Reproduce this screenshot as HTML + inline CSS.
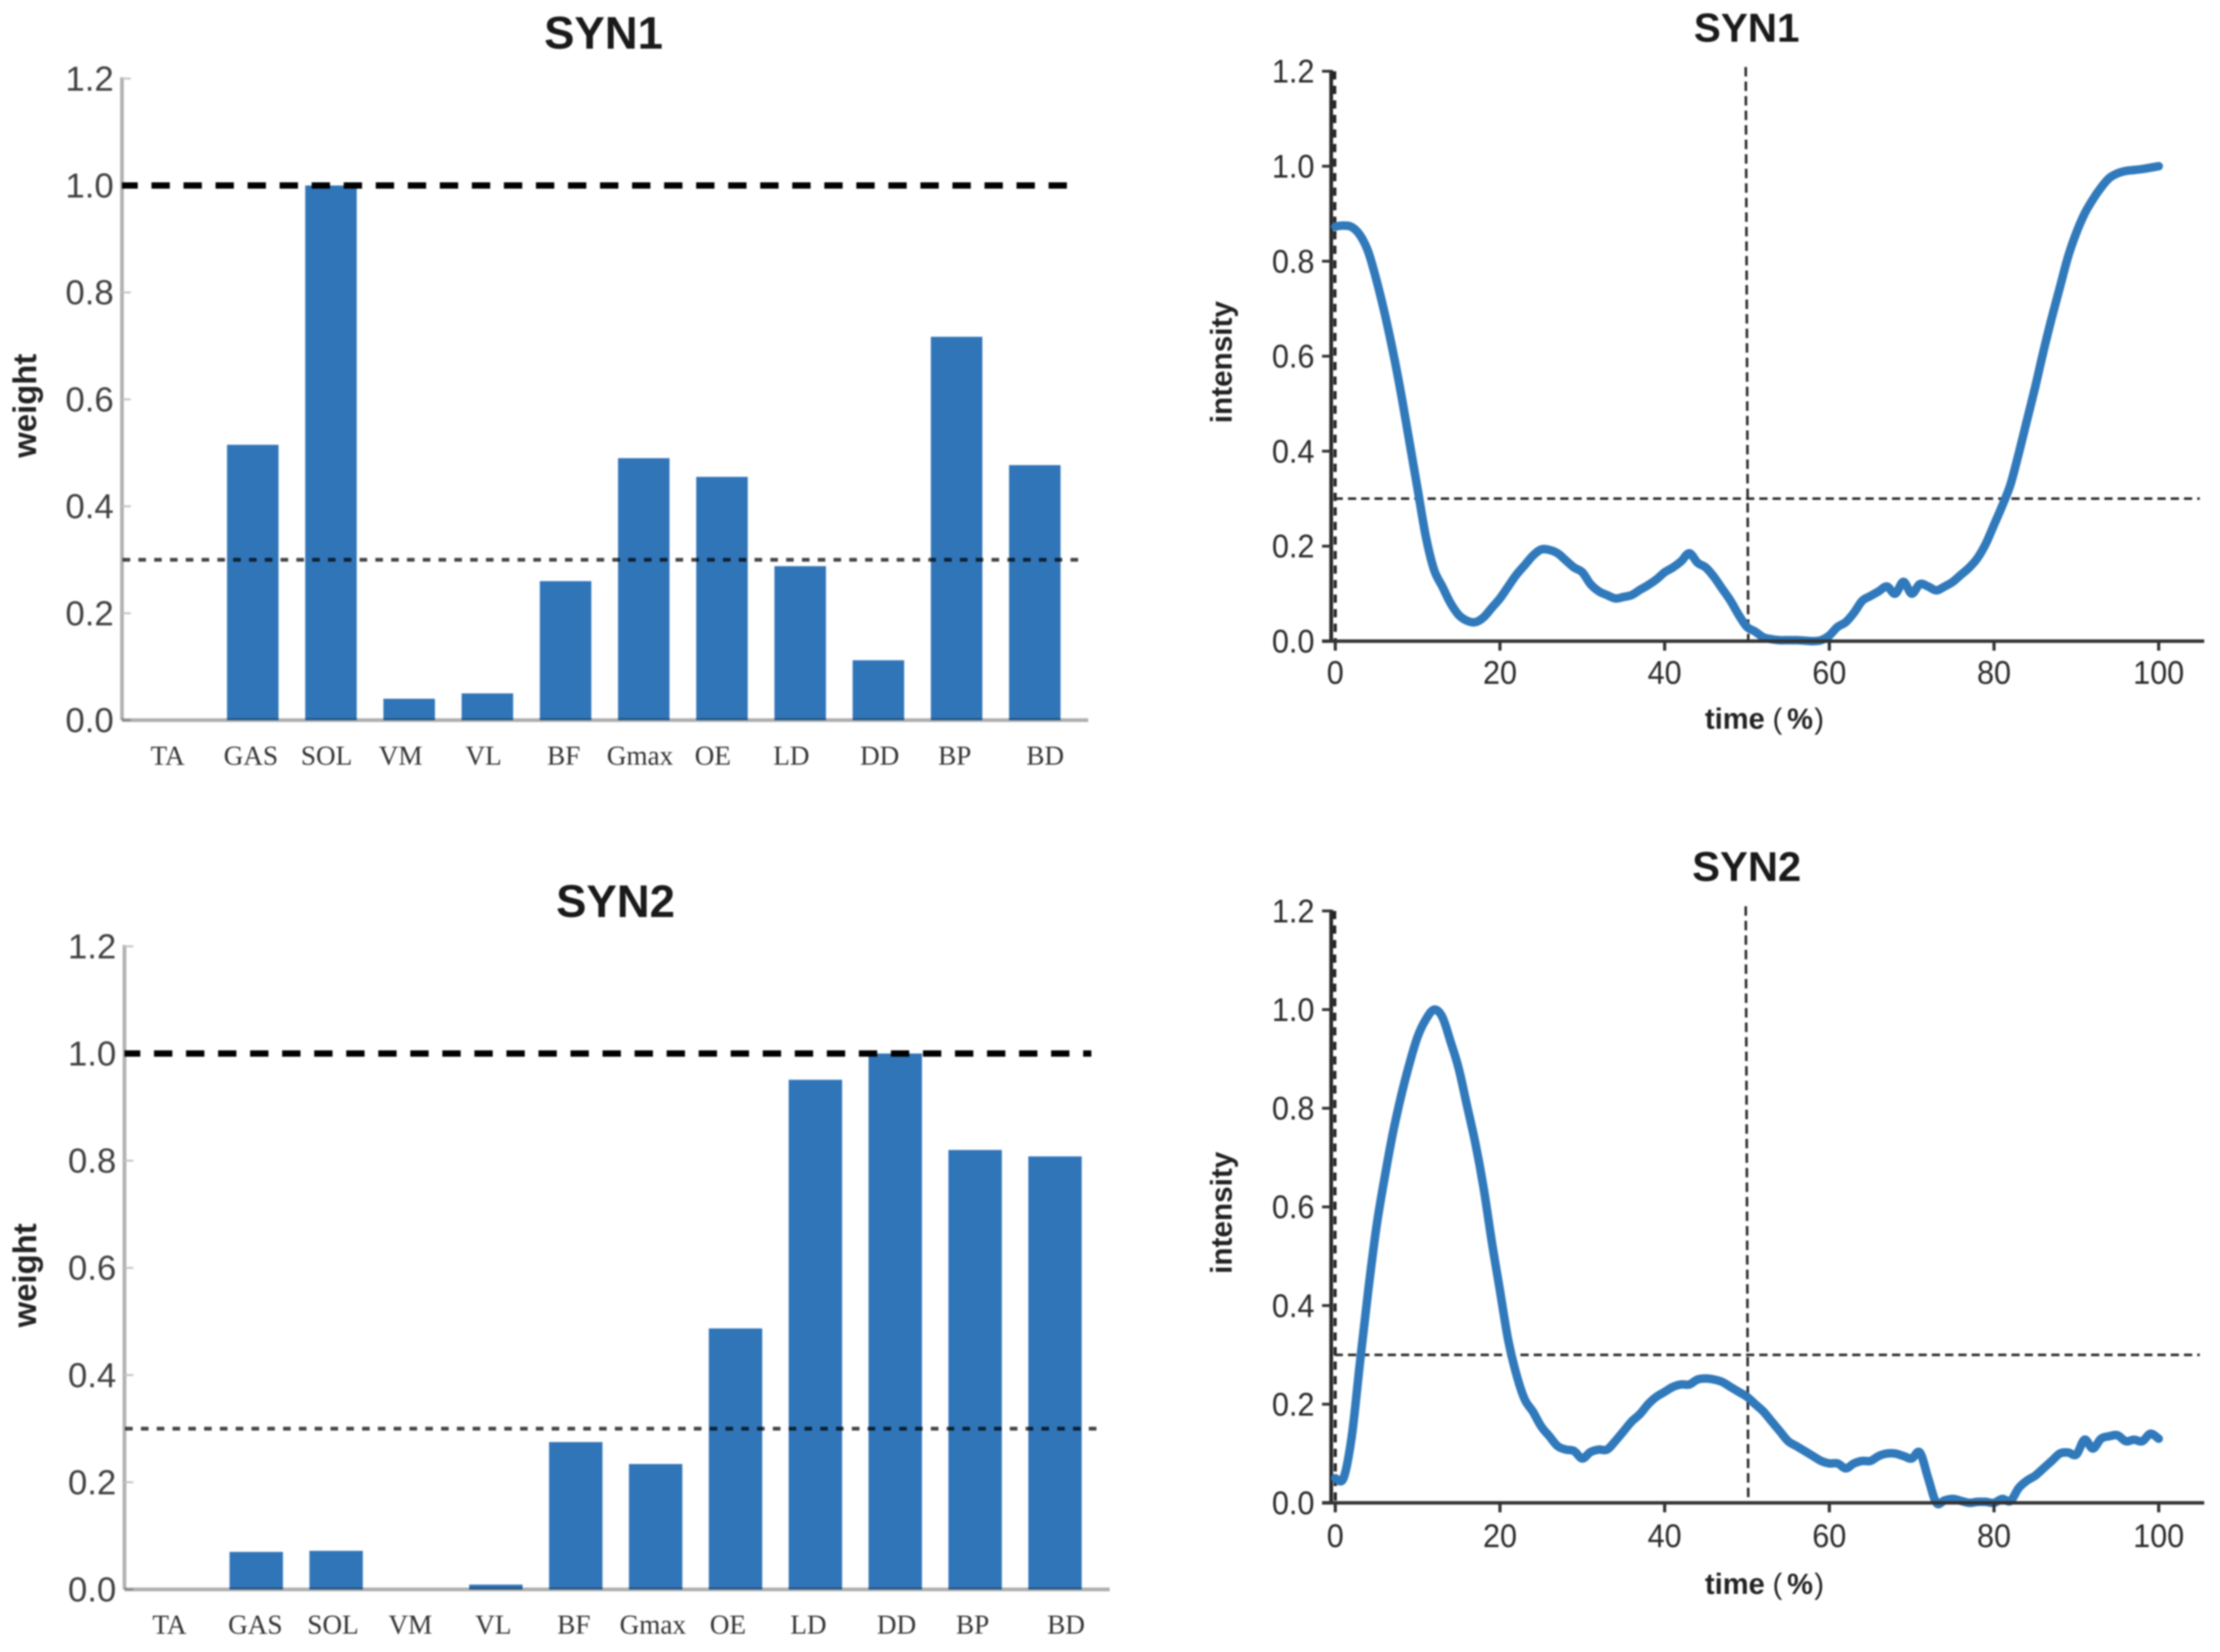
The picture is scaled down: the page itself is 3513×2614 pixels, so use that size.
<!DOCTYPE html>
<html lang="en">
<head>
<meta charset="utf-8">
<title>SYN1 and SYN2 muscle synergies</title>
<style>
  html, body { margin: 0; padding: 0; background: #fff; }
  #figure { display: block; width: 3513px; height: 2614px; filter: blur(1.2px); }
  text { font-family: "Liberation Sans", "DejaVu Sans", sans-serif; }
  .cat { font-family: "Liberation Serif", "Noto Serif CJK SC", serif; }
  .mult { mix-blend-mode: multiply; }
</style>
</head>
<body>
<svg id="figure" xmlns="http://www.w3.org/2000/svg" width="3513" height="2614" viewBox="0 0 3513 2614">
  <rect x="0" y="0" width="3513" height="2614" fill="#ffffff"/>
  <g id="p1"></g>
  <g id="p2"></g>
  <g id="p3"></g>
  <g id="p4"></g>
</svg>
<script>
const categories = ["TA","GAS","SOL","VM","VL","BF","Gmax","OE","LD","DD","BP","BD"];
const syn1Weights = [0,0.515,1.0,0.04,0.05,0.26,0.49,0.455,0.288,0.112,0.717,0.477];
const syn2Weights = [0,0.07,0.072,0,0.009,0.275,0.234,0.487,0.951,1.0,0.82,0.808];
const yTickValues = [0,0.2,0.4,0.6,0.8,1.0,1.2];
const timeTickValues = [0,20,40,60,80,100];
const syn1Intensity = [0.873,0.875,0.872,0.855,0.82,0.76,0.69,0.61,0.52,0.42,0.32,0.22,0.15,0.115,0.08,0.055,0.043,0.04,0.05,0.07,0.09,0.115,0.14,0.16,0.18,0.193,0.192,0.185,0.17,0.155,0.145,0.12,0.105,0.097,0.09,0.093,0.097,0.108,0.118,0.13,0.145,0.155,0.168,0.185,0.165,0.155,0.135,0.11,0.085,0.055,0.03,0.02,0.008,0.004,0.002,0.002,0.002,0.001,0,0.002,0.012,0.03,0.04,0.06,0.085,0.095,0.105,0.115,0.1,0.125,0.1,0.12,0.115,0.107,0.115,0.125,0.14,0.155,0.175,0.205,0.245,0.285,0.33,0.395,0.465,0.535,0.61,0.68,0.745,0.81,0.86,0.9,0.93,0.955,0.975,0.985,0.99,0.992,0.994,0.997,1.0];
const syn2Intensity = [0.05,0.05,0.135,0.285,0.43,0.56,0.66,0.75,0.825,0.89,0.945,0.98,1.0,0.985,0.935,0.88,0.805,0.73,0.64,0.53,0.43,0.33,0.26,0.21,0.185,0.155,0.135,0.115,0.108,0.105,0.09,0.103,0.108,0.108,0.125,0.145,0.165,0.18,0.2,0.215,0.225,0.235,0.24,0.24,0.25,0.252,0.25,0.245,0.235,0.225,0.215,0.2,0.185,0.165,0.145,0.125,0.115,0.105,0.095,0.085,0.08,0.08,0.07,0.08,0.085,0.085,0.095,0.1,0.1,0.095,0.09,0.102,0.05,0,0.005,0.008,0.004,0,0.002,0.002,0,0.008,0.004,0.03,0.045,0.055,0.07,0.085,0.1,0.102,0.098,0.128,0.11,0.13,0.135,0.137,0.125,0.128,0.125,0.14,0.13];
const fullScaleLevel = 1.0;
const thresholdLevel = 0.3;
const phaseBoundary = 50;

const NS = 'http://www.w3.org/2000/svg';
function mk(parent, tag, attrs, txt) {
  const el = document.createElementNS(NS, tag);
  for (const k in attrs) el.setAttribute(k, attrs[k]);
  if (txt !== undefined) el.textContent = txt;
  parent.appendChild(el);
  return el;
}
function digitsWidth(str, size) {
  let em = 0;
  for (const ch of str) em += (ch === '.') ? 0.278 : 0.556;
  return em * size * 0.93;
}
function smoothPath(pts) {
  let d = 'M' + pts[0][0].toFixed(1) + ' ' + pts[0][1].toFixed(1);
  for (let i = 0; i < pts.length - 1; i++) {
    const p0 = pts[Math.max(0, i - 1)], p1 = pts[i], p2 = pts[i + 1], p3 = pts[Math.min(pts.length - 1, i + 2)];
    const c1x = p1[0] + (p2[0] - p0[0]) / 6, c1y = p1[1] + (p2[1] - p0[1]) / 6;
    const c2x = p2[0] - (p3[0] - p1[0]) / 6, c2y = p2[1] - (p3[1] - p1[1]) / 6;
    d += ' C' + c1x.toFixed(1) + ' ' + c1y.toFixed(1) + ' ' + c2x.toFixed(1) + ' ' + c2y.toFixed(1) + ' ' + p2[0].toFixed(1) + ' ' + p2[1].toFixed(1);
  }
  return d;
}

function drawBarPanel(root, cfg, weights) {
  const yPos = v => cfg.y0 - v * cfg.unit;
  const xPos = i => cfg.xFirst + i * cfg.step;

  const title = mk(root, 'text', {x: cfg.titleX, y: cfg.titleY, 'text-anchor': 'middle', 'font-size': cfg.titleSize, 'font-weight': 'bold', fill: '#1a1a1a'}, cfg.title);
  
  

  const yAxis = mk(root, 'line', {x1: cfg.axisX, x2: cfg.axisX, y1: yPos(1.2) - 2, y2: cfg.y0, stroke: '#b2b2b2', 'stroke-width': 6});
  
  

  yTickValues.forEach(v => {
    const tick = mk(root, 'line', {x1: cfg.axisX, x2: cfg.axisX + 14, y1: yPos(v), y2: yPos(v), stroke: '#c4c4c4', 'stroke-width': 3});
    
    
    const label = mk(root, 'text', {x: cfg.axisX - 13, y: yPos(v) + 19, 'text-anchor': 'end', 'font-size': 55, fill: '#404040'}, v.toFixed(1));
    
    
  });

  weights.forEach((v, i) => {
    if (v <= 0) return;
    const bar = mk(root, 'rect', {x: xPos(i) - cfg.barWidth / 2, y: yPos(v), width: cfg.barWidth, height: v * cfg.unit, fill: '#3075b8'});
    
    
  });

  const xAxis = mk(root, 'line', {x1: cfg.axisX, x2: cfg.xEnd, y1: cfg.y0, y2: cfg.y0, stroke: '#b0b0b0', 'stroke-width': 6, class: 'mult'});
  
  

  const topLine = mk(root, 'line', {x1: cfg.axisX, x2: cfg.dashEnd, y1: yPos(fullScaleLevel), y2: yPos(fullScaleLevel), stroke: '#000', 'stroke-width': 10, 'stroke-dasharray': '29 21.7', 'stroke-dashoffset': 4});
  
  

  const thresh = mk(root, 'line', {x1: cfg.axisX + 1, x2: cfg.dotEnd, y1: yPos(thresholdLevel), y2: yPos(thresholdLevel), stroke: '#454545', 'stroke-width': 6, 'stroke-dasharray': '12 13', class: 'mult'});
  
  

  categories.forEach((c, i) => {
    const nudge = cfg.labelNudge[c] || 0;
    const label = mk(root, 'text', {x: xPos(i) + nudge, y: cfg.catY, 'text-anchor': 'middle', 'font-size': 43, fill: '#333', class: 'cat'}, c);
    
    
  });

  const yTitle = mk(root, 'text', {transform: 'translate(57,' + cfg.yTitleY + ') rotate(-90)', 'text-anchor': 'middle', 'font-size': 52, 'font-weight': 'bold', fill: '#222'}, 'weight');
  
  
}

function drawLinePanel(root, cfg, series) {
  const X0 = 2113, XU = 13.03, AXIS = 2106.5;
  const xPos = t => X0 + t * XU;
  const yPos = v => cfg.y0 - v * cfg.unit;

  const title = mk(root, 'text', {x: 2764, y: cfg.titleY, 'text-anchor': 'middle', 'font-size': cfg.titleSize, 'font-weight': 'bold', fill: '#1a1a1a'}, cfg.title);
  
  

  const yAxis = mk(root, 'line', {x1: AXIS, x2: AXIS, y1: yPos(1.2) - 2, y2: cfg.y0, stroke: '#2a2a2a', 'stroke-width': 6});
  
  

  const zeroLine = mk(root, 'line', {x1: 2112, x2: 2113, y1: yPos(1.2), y2: cfg.y0, stroke: '#222', 'stroke-width': 5, 'stroke-dasharray': '13 10'});
  
  

  const phase = mk(root, 'line', {x1: xPos(phaseBoundary) - 2, x2: xPos(phaseBoundary) + 2, y1: cfg.phaseTop, y2: cfg.y0, stroke: '#2a2a2a', 'stroke-width': 4, 'stroke-dasharray': '15 8'});
  
  

  const thresh = mk(root, 'line', {x1: 2112, x2: 3481, y1: yPos(thresholdLevel), y2: yPos(thresholdLevel), stroke: '#2a2a2a', 'stroke-width': 4, 'stroke-dasharray': '13 8'});
  
  

  const curve = mk(root, 'path', {d: smoothPath(series.map((v, i) => [xPos(i), yPos(v)])), fill: 'none', stroke: '#3079bb', 'stroke-width': 13.5, 'stroke-linejoin': 'round', 'stroke-linecap': 'round'});
  
  

  const xAxis = mk(root, 'line', {x1: 2092, x2: 3488, y1: cfg.y0, y2: cfg.y0, stroke: '#333', 'stroke-width': 5.5});
  
  

  yTickValues.forEach(v => {
    const tick = mk(root, 'line', {x1: 2092, x2: AXIS, y1: yPos(v), y2: yPos(v), stroke: '#333', 'stroke-width': 4.5});
    
    
    const str = v.toFixed(1);
    const label = mk(root, 'text', {x: 2080, y: yPos(v) + 18, 'text-anchor': 'end', 'font-size': 52, fill: '#2a2a2a', textLength: digitsWidth(str, 52), lengthAdjust: 'spacingAndGlyphs'}, str);
    
    
  });

  timeTickValues.forEach(t => {
    const tick = mk(root, 'line', {x1: xPos(t), x2: xPos(t), y1: cfg.y0, y2: cfg.y0 + 15, stroke: '#333', 'stroke-width': 5});
    
    
    const str = String(t);
    const label = mk(root, 'text', {x: xPos(t), y: cfg.tickY, 'text-anchor': 'middle', 'font-size': 52, fill: '#2a2a2a', textLength: digitsWidth(str, 52), lengthAdjust: 'spacingAndGlyphs'}, str);
    
    
  });

  const xTitle = mk(root, 'text', {x: 2698, y: cfg.xTitleY, 'font-size': 46, 'font-weight': 'bold', fill: '#222'});
  
  
  mk(xTitle, 'tspan', {}, 'time');
  mk(xTitle, 'tspan', {x: 2805, 'font-weight': 'normal'}, '(');
  mk(xTitle, 'tspan', {x: 2828}, '%');
  mk(xTitle, 'tspan', {x: 2871, 'font-weight': 'normal'}, ')');

  const yTitle = mk(root, 'text', {transform: 'translate(1949,' + cfg.yTitleY + ') rotate(-90)', 'text-anchor': 'middle', 'font-size': 47, 'font-weight': 'bold', fill: '#222'}, 'intensity');
  
  
}

drawBarPanel(document.getElementById('p1'), {
  title: 'SYN1', titleX: 955, titleY: 77, titleSize: 72,
  axisX: 193, y0: 1139.5, unit: 846, xFirst: 276.25, step: 123.75, barWidth: 81.5,
  xEnd: 1722, dashEnd: 1707, dotEnd: 1711, catY: 1210, yTitleY: 642,
  labelNudge: {TA:-11, GAS:-3, SOL:-7, VM:-13.5, VL:-6, BF:-3, Gmax:-6, OE:-14.5, LD:-14, DD:2, BP:-3, BD:16.5}
}, syn1Weights);

drawLinePanel(document.getElementById('p2'), {
  title: 'SYN1', titleY: 66, titleSize: 64,
  y0: 1014.5, unit: 751.5, phaseTop: 106, tickY: 1082, xTitleY: 1153, yTitleY: 573
}, syn1Intensity);

drawBarPanel(document.getElementById('p3'), {
  title: 'SYN2', titleX: 974, titleY: 1451, titleSize: 72,
  axisX: 197, y0: 2515, unit: 848, xFirst: 279.1, step: 126.4, barWidth: 84.5,
  xEnd: 1756, dashEnd: 1727, dotEnd: 1745, catY: 2585, yTitleY: 2018,
  labelNudge: {TA:-11, GAS:-1.5, SOL:-5, VM:-9, VL:-4, BF:-3, Gmax:-4.5, OE:-12, LD:-11, DD:2, BP:-4, BD:17.5}
}, syn2Weights);

drawLinePanel(document.getElementById('p4'), {
  title: 'SYN2', titleY: 1394, titleSize: 66,
  y0: 2378, unit: 780.5, phaseTop: 1434, tickY: 2448, xTitleY: 2522, yTitleY: 1919
}, syn2Intensity);
</script>
</body>
</html>
